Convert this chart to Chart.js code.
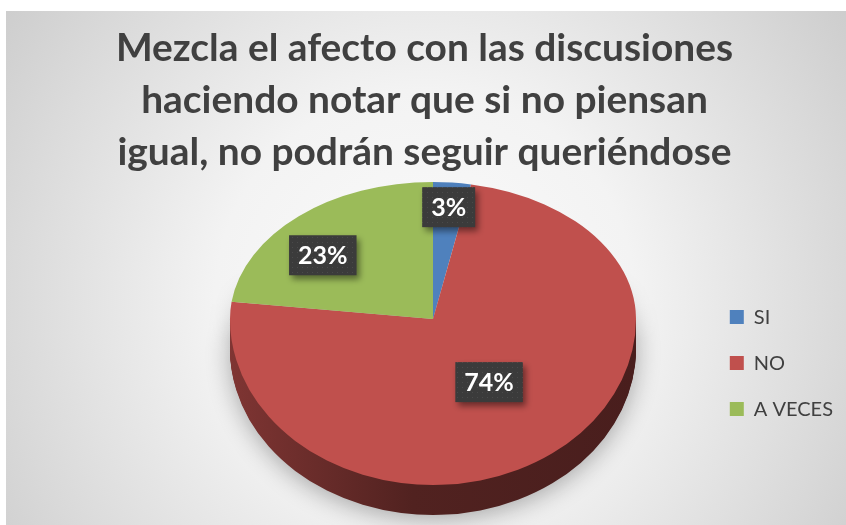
<!DOCTYPE html>
<html>
<head>
<meta charset="utf-8">
<script src="https://cdn.jsdelivr.net/npm/chart.js@4/dist/chart.umd.min.js"></script>
<style>
    html, body { margin: 0; padding: 0; background: #ffffff; }
    #chart { display: block; }
</style>
</head>
<body>
<canvas id="chart" width="846" height="525"></canvas>
<script>
// data
const categories = ['SI', 'NO', 'A VECES'];
const percentages = [3, 74, 23];
const titleLines = [
    'Mezcla el afecto con las discusiones',
    'haciendo notar que si no piensan',
    'igual, no podrán seguir queriéndose'
];

// look
const sliceColors = ['#4f81bd', '#c0504d', '#9bbb59'];
const textColor = '#404040';
const view = { cx: 433, cy: 319, rx: 203, ryTop: 137, ryBottom: 166, depth: 30 };
const labelRadius = [0.82, 0.47, 0.715];
const labelTurn = [0, 0, -8]; // degrees, Excel's "best fit" nudges

// fit the title to the total width the three lines take in the picture
const probe = document.createElement('canvas').getContext('2d');
probe.font = 'bold 40px Lato';
const measured = titleLines.reduce((s, t) => s + probe.measureText(t).width, 0);
const titleSize = Math.round(40 * 1800 / measured * 10) / 10;

function shade(hex, f) {
    const n = parseInt(hex.slice(1), 16);
    const r = Math.round(((n >> 16) & 255) * f);
    const g = Math.round(((n >> 8) & 255) * f);
    const b = Math.round((n & 255) * f);
    return 'rgb(' + r + ',' + g + ',' + b + ')';
}

const background = {
    id: 'background',
    beforeDraw(chart) {
        const ctx = chart.ctx;
        ctx.save();
        ctx.fillStyle = '#ffffff';
        ctx.fillRect(0, 0, chart.width, chart.height);
        const g = ctx.createRadialGradient(425, 300, 0, 425, 300, 600);
        g.addColorStop(0, '#fbfbfb');
        g.addColorStop(0.35, '#f3f3f3');
        g.addColorStop(0.7, '#d9d9d9');
        g.addColorStop(1, '#c2c2c2');
        ctx.fillStyle = g;
        ctx.fillRect(6, 11, chart.width - 6, chart.height - 11);
        ctx.restore();
    }
};

// tilted pie: library arcs drawn under a squashing transform, plus a side wall
const pie3d = {
    id: 'pie3d',
    beforeDatasetsDraw(chart) {
        const ctx = chart.ctx;
        const arcs = chart.getDatasetMeta(0).data;
        if (!arcs.length) return false;
        const ex = arcs[0].x, ey = arcs[0].y, r = arcs[0].outerRadius;
        const sx = view.rx / r;

        function place(c, ry, dy) {
            c.translate(view.cx, view.cy + dy);
            c.scale(sx, ry / r);
            c.translate(-ex, -ey);
        }

        // soft shadow under the pie, faded out towards the top
        const off = document.createElement('canvas');
        off.width = chart.width; off.height = chart.height;
        const octx = off.getContext('2d');
        octx.save();
        octx.shadowColor = 'rgba(0,0,0,0.32)';
        octx.shadowBlur = 24;
        octx.shadowOffsetX = 3000;
        octx.shadowOffsetY = 4;
        octx.translate(-3000, 0);
        place(octx, view.ryBottom, view.depth);
        arcs.forEach(el => el.draw(octx));
        octx.restore();
        octx.globalCompositeOperation = 'destination-in';
        const fade = octx.createLinearGradient(0, view.cy - 50, 0, view.cy + 20);
        fade.addColorStop(0, 'rgba(0,0,0,0)');
        fade.addColorStop(1, 'rgba(0,0,0,1)');
        octx.fillStyle = fade;
        octx.fillRect(0, 0, off.width, off.height);
        ctx.drawImage(off, 0, 0);

        // side wall (only the front half shows)
        ctx.save();
        ctx.beginPath();
        ctx.rect(0, view.cy, chart.width, chart.height);
        ctx.clip();
        arcs.forEach((el, i) => {
            const orig = el.options;
            const g = ctx.createLinearGradient(ex - r, 0, ex + r, 0);
            g.addColorStop(0, shade(sliceColors[i], 0.66));
            g.addColorStop(0.45, shade(sliceColors[i], 0.42));
            g.addColorStop(1, shade(sliceColors[i], 0.38));
            el.options = Object.assign({}, orig, { backgroundColor: g });
            for (let d = view.depth; d >= 1; d--) {
                ctx.save();
                place(ctx, view.ryBottom, d);
                el.draw(ctx);
                ctx.restore();
            }
            el.options = orig;
        });
        ctx.restore();

        // top face, back half
        ctx.save();
        ctx.beginPath();
        ctx.rect(0, 0, chart.width, view.cy + 1);
        ctx.clip();
        place(ctx, view.ryTop, 0);
        arcs.forEach(el => el.draw(ctx));
        ctx.restore();

        // top face, front half
        ctx.save();
        ctx.beginPath();
        ctx.rect(0, view.cy, chart.width, chart.height);
        ctx.clip();
        place(ctx, view.ryBottom, 0);
        arcs.forEach(el => el.draw(ctx));
        ctx.restore();

        return false;
    },
    afterDraw(chart) {
        const ctx = chart.ctx;
        const arcs = chart.getDatasetMeta(0).data;
        if (!arcs.length) return;

        const tile = document.createElement('canvas');
        tile.width = 5; tile.height = 5;
        const tctx = tile.getContext('2d');
        tctx.fillStyle = '#3b3b3b';
        tctx.fillRect(0, 0, 5, 5);
        tctx.fillStyle = '#4a4a4a';
        tctx.fillRect(2, 2, 1, 1);
        const pattern = ctx.createPattern(tile, 'repeat');

        ctx.save();
        ctx.font = 'bold 25px Lato';
        ctx.textAlign = 'center';
        ctx.textBaseline = 'middle';
        arcs.forEach((el, i) => {
            const mid = (el.startAngle + el.endAngle) / 2 + labelTurn[i] * Math.PI / 180;
            const px = Math.cos(mid) * labelRadius[i];
            const py = Math.sin(mid) * labelRadius[i];
            const x = view.cx + px * view.rx;
            const y = view.cy + py * (py < 0 ? view.ryTop : view.ryBottom);
            const text = chart.data.datasets[0].data[i] + '%';
            const w = ctx.measureText(text).width + 18;
            const h = 40;
            ctx.save();
            ctx.shadowColor = 'rgba(0,0,0,0.45)';
            ctx.shadowBlur = 6;
            ctx.shadowOffsetX = 3;
            ctx.shadowOffsetY = 4;
            ctx.fillStyle = pattern;
            ctx.fillRect(x - w / 2, y - h / 2, w, h);
            ctx.restore();
            ctx.fillStyle = '#ffffff';
            ctx.fillText(text, x, y + 1);
        });
        ctx.restore();
    }
};

new Chart(document.getElementById('chart').getContext('2d'), {
    type: 'pie',
    data: {
        labels: categories,
        datasets: [{
            data: percentages,
            backgroundColor: sliceColors,
            borderWidth: 0
        }]
    },
    plugins: [background, pie3d],
    options: {
        responsive: false,
        animation: false,
        layout: {
            padding: { top: 11, left: 6, right: 3, bottom: 0 }
        },
        plugins: {
            title: {
                display: true,
                text: titleLines,
                color: textColor,
                font: { family: 'Lato', weight: 'bold', size: titleSize, lineHeight: 52 / titleSize },
                padding: { top: 11, bottom: 2 }
            },
            legend: {
                position: 'right',
                align: 'center',
                fullSize: false,
                title: {
                    display: true,
                    text: ' ',
                    font: { size: 1 },
                    padding: 10
                },
                labels: {
                    color: textColor,
                    font: { family: 'Lato', size: 20 },
                    boxWidth: 14,
                    boxHeight: 14,
                    padding: 26
                }
            },
            tooltip: { enabled: false }
        }
    }
});
</script>
</body>
</html>
